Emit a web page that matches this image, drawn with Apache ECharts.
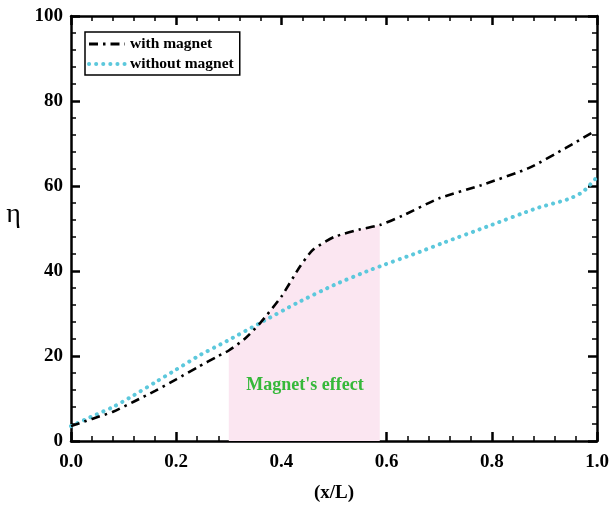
<!DOCTYPE html>
<html><head><meta charset="utf-8">
<script src="https://cdn.jsdelivr.net/npm/echarts@6/dist/echarts.min.js"></script>
<style>html,body{margin:0;padding:0;background:#fff}#c{width:613px;height:509px}</style>
</head><body><div id="c"></div>
<script>
var withX = [0, 0.04, 0.08, 0.12, 0.16, 0.2, 0.24, 0.28, 0.3, 0.33, 0.36, 0.4, 0.435, 0.46, 0.5, 0.55, 0.587, 0.63, 0.7, 0.78, 0.87, 0.94, 0.99];
var withY = [3.5, 5.2, 6.9, 9.3, 11.8, 14.5, 17.3, 20.0, 21.3, 24.0, 27.8, 34.0, 41.0, 45.0, 48.0, 49.8, 50.8, 53.0, 57.1, 60.2, 64.2, 68.9, 72.5];
var withoutX = [0, 0.04, 0.08, 0.12, 0.16, 0.2, 0.245, 0.296, 0.36, 0.43, 0.5, 0.568, 0.663, 0.707, 0.79, 0.886, 0.945, 0.973, 1.0];
var withoutY = [3.5, 5.8, 8.0, 10.8, 13.8, 16.8, 20.2, 23.5, 27.8, 32.5, 36.7, 40.2, 44.5, 46.6, 50.4, 54.8, 56.9, 58.6, 62.1];
var shadeFrom = 0.3, shadeTo = 0.587;
var xTicks = ['0.0', '0.2', '0.4', '0.6', '0.8', '1.0'];
var seriesNames = ['with magnet', 'without magnet'];
var noteText = "Magnet's effect";
var notePos = [0.445, 13.2];

function pairs(xs, ys) { return xs.map(function (x, i) { return [x, ys[i]]; }); }
var shadeData = pairs(withX, withY).filter(function (p) { return p[0] >= shadeFrom && p[0] <= shadeTo; });

var font = 'Liberation Serif';
var axisCommon = {
  type: 'value', min: 0,
  axisLine: { show: true, onZero: false, lineStyle: { color: '#000', width: 2.5 } },
  axisTick: { show: true, inside: true, length: 9, lineStyle: { color: '#000', width: 2.5 } },
  minorTick: { show: true, splitNumber: 5, length: 5, lineStyle: { color: '#000', width: 1.5 } },
  splitLine: { show: false }, minorSplitLine: { show: false }
};
function ax(extra) { return Object.assign({}, JSON.parse(JSON.stringify(axisCommon)), extra); }

var chart = echarts.init(document.getElementById('c'), null, { renderer: 'canvas' });
chart.setOption({
  backgroundColor: '#fff',
  animation: false,
  grid: { left: 71, right: 16, top: 16, bottom: 68 },
  xAxis: [
    ax({ max: 1, interval: 0.2, position: 'bottom',
      axisLabel: { show: true, margin: 12, color: '#000', fontFamily: font, fontWeight: 'bold', fontSize: 19,
        formatter: function (v) { return xTicks[Math.round(v / 0.2)]; } },
      name: '(x/L)', nameLocation: 'middle', nameGap: 43,
      nameTextStyle: { color: '#000', fontFamily: font, fontWeight: 'bold', fontSize: 19 } }),
    ax({ max: 1, interval: 0.2, position: 'top', axisLabel: { show: false } })
  ],
  yAxis: [
    ax({ max: 100, interval: 20, position: 'left',
      axisLabel: { show: true, margin: 8, color: '#000', fontFamily: font, fontWeight: 'bold', fontSize: 19 },
      name: 'η', nameLocation: 'middle', nameGap: 50, nameRotate: 0,
      nameTextStyle: { color: '#000', fontFamily: font, fontSize: 28, verticalAlign: 'bottom' } }),
    ax({ max: 100, interval: 20, position: 'right', axisLabel: { show: false } })
  ],
  legend: {
    left: 85, top: 32, orient: 'vertical',
    data: [
      { name: seriesNames[0], itemStyle: { opacity: 0 }, lineStyle: { width: 3 } },
      { name: seriesNames[1], itemStyle: { opacity: 0 }, lineStyle: { width: 4 } }
    ],
    itemWidth: 36, itemHeight: 12, itemGap: 4,
    padding: [4, 6, 3, 2],
    borderColor: '#000', borderWidth: 1.5,
    textStyle: { color: '#000', fontFamily: font, fontWeight: 'bold', fontSize: 15.5 }
  },
  series: [
    {
      name: 'shade', type: 'line', data: shadeData, symbol: 'none', silent: true,
      lineStyle: { width: 0, opacity: 0 },
      areaStyle: { color: '#fbe6f1', opacity: 1 },
      z: 1,
      markPoint: {
        symbol: 'circle', symbolSize: 0,
        data: [{ coord: notePos, value: noteText }],
        label: { show: true, position: 'inside', formatter: noteText, color: '#36b83a',
          fontFamily: font, fontWeight: 'bold', fontSize: 18 }
      }
    },
    {
      name: seriesNames[0], type: 'line', data: pairs(withX, withY), symbol: 'none', smooth: 0.2,
      color: '#000',
      lineStyle: { color: '#000', width: 2.6, type: [9, 5, 2.5, 5] },
      z: 3
    },
    {
      name: seriesNames[1], type: 'line', data: pairs(withoutX, withoutY), symbol: 'none', smooth: 0.2,
      color: '#5cc8dc',
      lineStyle: { color: '#5cc8dc', width: 4, type: [0.1, 7], cap: 'round' },
      z: 2
    }
  ]
});
</script>
</body></html>
